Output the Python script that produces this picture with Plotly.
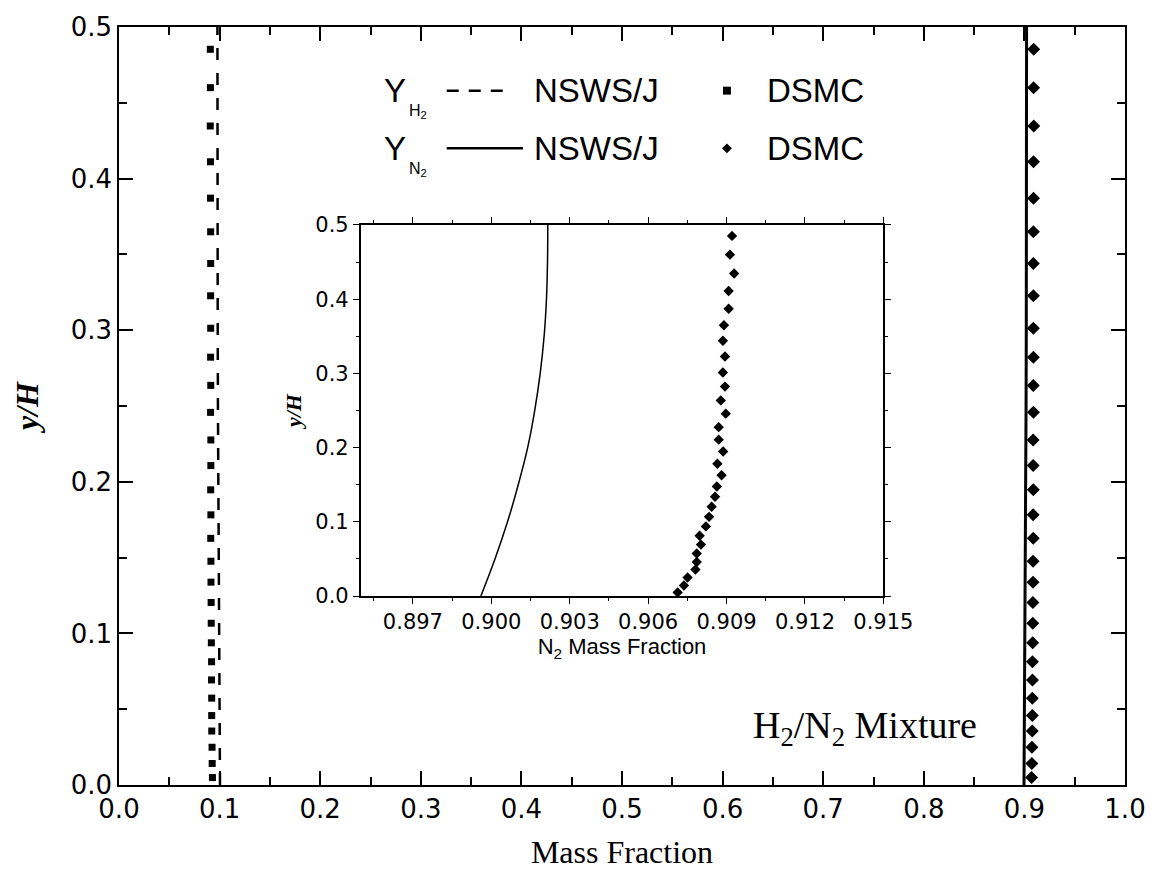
import plotly.graph_objects as go

# ---------------- data ----------------
# NSWS/J continuum solution (y/H vs mass fraction)
y_nsws = [0.0, 0.05, 0.1, 0.15, 0.2, 0.25, 0.3, 0.35, 0.4, 0.45, 0.5]
n2_nsws = [0.89960, 0.90014, 0.90062, 0.90103, 0.90139, 0.90166, 0.90187,
           0.90202, 0.90211, 0.90215, 0.90216]
h2_nsws = [0.10040, 0.09986, 0.09938, 0.09897, 0.09861, 0.09834, 0.09813,
           0.09798, 0.09789, 0.09785, 0.09784]

# DSMC results
y_dsmc = [0.0049, 0.0142, 0.0249, 0.0356, 0.0458, 0.0573, 0.0693, 0.0813,
          0.0938, 0.1067, 0.1204, 0.1338, 0.1476, 0.1627, 0.1782, 0.1947,
          0.2107, 0.2276, 0.2458, 0.2636, 0.2822, 0.3013, 0.3227, 0.3440,
          0.3649, 0.3871, 0.4111, 0.4347, 0.4600, 0.4853]
n2_dsmc = [0.90713, 0.90737, 0.90751, 0.90781, 0.90786, 0.90786, 0.90802,
           0.90797, 0.90821, 0.90833, 0.90843, 0.90856, 0.90863, 0.90881,
           0.90865, 0.90887, 0.90870, 0.90870, 0.90897, 0.90878, 0.90894,
           0.90886, 0.90894, 0.90886, 0.90890, 0.90908, 0.90908, 0.90929,
           0.90913, 0.90921]
h2_dsmc = [0.09287, 0.09263, 0.09249, 0.09219, 0.09214, 0.09214, 0.09198,
           0.09203, 0.09179, 0.09167, 0.09157, 0.09144, 0.09137, 0.09119,
           0.09135, 0.09113, 0.09130, 0.09130, 0.09103, 0.09122, 0.09106,
           0.09114, 0.09106, 0.09114, 0.09110, 0.09092, 0.09092, 0.09071,
           0.09087, 0.09079]

main_xticks = [0.0, 0.1, 0.2, 0.3, 0.4, 0.5, 0.6, 0.7, 0.8, 0.9, 1.0]
main_yticks = [0.0, 0.1, 0.2, 0.3, 0.4, 0.5]
inset_xticks = [0.897, 0.900, 0.903, 0.906, 0.909, 0.912, 0.915]
inset_yticks = [0.0, 0.1, 0.2, 0.3, 0.4, 0.5]

SANS = "Arial, Liberation Sans, sans-serif"
TICK = "DejaVu Sans, Arial, sans-serif"
SERIF = "Times New Roman, Liberation Serif, serif"

fig = go.Figure()

# ---------------- main plot ----------------
fig.add_trace(go.Scatter(x=h2_nsws, y=y_nsws, mode="lines",
                         line=dict(color="black", width=2.5, dash="12px,13px"),
                         xaxis="x", yaxis="y", showlegend=False))
fig.add_trace(go.Scatter(x=h2_dsmc, y=y_dsmc, mode="markers",
                         marker=dict(symbol="square", size=7, color="black"),
                         xaxis="x", yaxis="y", showlegend=False))
fig.add_trace(go.Scatter(x=n2_nsws, y=y_nsws, mode="lines",
                         line=dict(color="black", width=3),
                         xaxis="x", yaxis="y", showlegend=False))
fig.add_trace(go.Scatter(x=n2_dsmc, y=y_dsmc, mode="markers",
                         marker=dict(symbol="diamond", size=10, color="black"),
                         xaxis="x", yaxis="y", showlegend=False))

# ---------------- inset ----------------
fig.add_trace(go.Scatter(x=n2_nsws, y=y_nsws, mode="lines",
                         line=dict(color="black", width=1.5, shape="spline"),
                         xaxis="x2", yaxis="y2", showlegend=False))
fig.add_trace(go.Scatter(x=n2_dsmc, y=y_dsmc, mode="markers",
                         marker=dict(symbol="diamond", size=8, color="black"),
                         xaxis="x2", yaxis="y2", showlegend=False))

main_axis = dict(showline=True, linecolor="black", linewidth=1.5, mirror="ticks",
                 ticks="inside", ticklen=14, tickwidth=1.5, tickcolor="black",
                 showgrid=False, zeroline=False,
                 tickfont=dict(family=TICK, size=26, color="black"))
inset_axis = dict(showline=True, linecolor="black", linewidth=1.5, mirror="ticks",
                  ticks="outside", ticklen=6, tickwidth=1.2, tickcolor="black",
                  showgrid=False, zeroline=False,
                  tickfont=dict(family=TICK, size=21, color="black"))

fig.update_layout(
    width=1167, height=879,
    margin=dict(l=119, r=32, t=23, b=94),
    paper_bgcolor="white", plot_bgcolor="white",
    xaxis=dict(main_axis, domain=[0, 1], range=[0, 1], anchor="y",
               tickmode="array", tickvals=main_xticks,
               ticktext=[f"{v:.1f}" for v in main_xticks],
               minor=dict(ticks="inside", ticklen=8, tickwidth=1.5, tickcolor="black",
                          tick0=0.05, dtick=0.1),
               title=dict(text="Mass Fraction", standoff=18,
                          font=dict(family=SERIF, size=32, color="black"))),
    yaxis=dict(main_axis, domain=[0, 1], range=[0, 0.5], anchor="x",
               tickmode="array", tickvals=main_yticks,
               ticktext=[f"{v:.1f}" for v in main_yticks],
               minor=dict(ticks="inside", ticklen=8, tickwidth=1.5, tickcolor="black",
                          tick0=0.05, dtick=0.1),
               title=dict(text="<b><i>y/H</i></b>", standoff=22,
                          font=dict(family=SERIF, size=32, color="black"))),
    xaxis2=dict(inset_axis, domain=[0.2402, 0.7598], range=[0.895, 0.915], anchor="y2",
                tickmode="array", tickvals=inset_xticks,
                ticktext=[f"{v:.3f}" for v in inset_xticks],
                minor=dict(ticks="outside", ticklen=3, tickwidth=1.2, tickcolor="black",
                           tick0=0.8955, dtick=0.003),
                title=dict(text="N<sub>2</sub> Mass Fraction", standoff=6,
                           font=dict(family=SANS, size=22, color="black"))),
    yaxis2=dict(inset_axis, domain=[0.2493, 0.7388], range=[0, 0.5], anchor="x2",
                tickmode="array", tickvals=inset_yticks,
                ticktext=[f"{v:.1f}" for v in inset_yticks],
                minor=dict(ticks="outside", ticklen=3, tickwidth=1.2, tickcolor="black",
                           tick0=0.05, dtick=0.1),
                title=dict(text="<b><i>y/H</i></b>", standoff=8,
                           font=dict(family=SERIF, size=22, color="black"))),
)

# ---------------- custom legend ----------------
def px2paper(px, py):
    return (px - 119) / 1016.0, (785 - py) / 762.0

rows = [(87, "H", "dash"), (145, "N", "solid")]
annotations = []
shapes = []
for (py, sp, style) in rows:
    xY, yY = px2paper(398, py)
    annotations.append(dict(x=xY, y=yY, xref="paper", yref="paper", text="Y",
                            showarrow=False, xanchor="center", yanchor="middle",
                            font=dict(family=SANS, size=33, color="black")))
    xs, ys = px2paper(410, py + 21)
    annotations.append(dict(x=xs, y=ys, xref="paper", yref="paper",
                            text=f"{sp}<sub>2</sub>",
                            showarrow=False, xanchor="left", yanchor="middle",
                            font=dict(family=SANS, size=16, color="black")))
    x0, y0 = px2paper(450, py)
    x1, _ = px2paper(514 if style == "dash" else 527, py)
    shapes.append(dict(type="line", xref="paper", yref="paper", x0=x0, x1=x1, y0=y0, y1=y0,
                       line=dict(color="black", width=2.5,
                                 dash="12px,10px" if style == "dash" else "solid")))
    xt, yt = px2paper(536, py)
    annotations.append(dict(x=xt, y=yt, xref="paper", yref="paper", text="NSWS/J",
                            showarrow=False, xanchor="left", yanchor="middle",
                            font=dict(family=SANS, size=33, color="black")))
    xd, yd = px2paper(771, py)
    annotations.append(dict(x=xd, y=yd, xref="paper", yref="paper", text="DSMC",
                            showarrow=False, xanchor="left", yanchor="middle",
                            font=dict(family=SANS, size=33, color="black")))

# legend marker keys
mx, my = 733, 87
a, b = px2paper(mx - 4, my - 4)
c, d = px2paper(mx + 4, my + 4)
shapes.append(dict(type="rect", xref="paper", yref="paper", x0=a, x1=c, y0=d, y1=b,
                   fillcolor="black", line=dict(width=0)))
mx, my = 733, 145
pts = [px2paper(mx, my - 5), px2paper(mx + 5, my), px2paper(mx, my + 5), px2paper(mx - 5, my)]
path = "M " + " L ".join(f"{p[0]:.5f},{p[1]:.5f}" for p in pts) + " Z"
shapes.append(dict(type="path", xref="paper", yref="paper", path=path,
                   fillcolor="black", line=dict(width=0)))

# mixture label
xm, ym = px2paper(988, 728)
annotations.append(dict(x=xm, y=ym, xref="paper", yref="paper",
                        text="H<sub>2</sub>/N<sub>2</sub> Mixture",
                        showarrow=False, xanchor="right", yanchor="middle",
                        font=dict(family=SERIF, size=38, color="black")))

fig.update_layout(annotations=annotations, shapes=shapes)

fig.write_html("out.html")
